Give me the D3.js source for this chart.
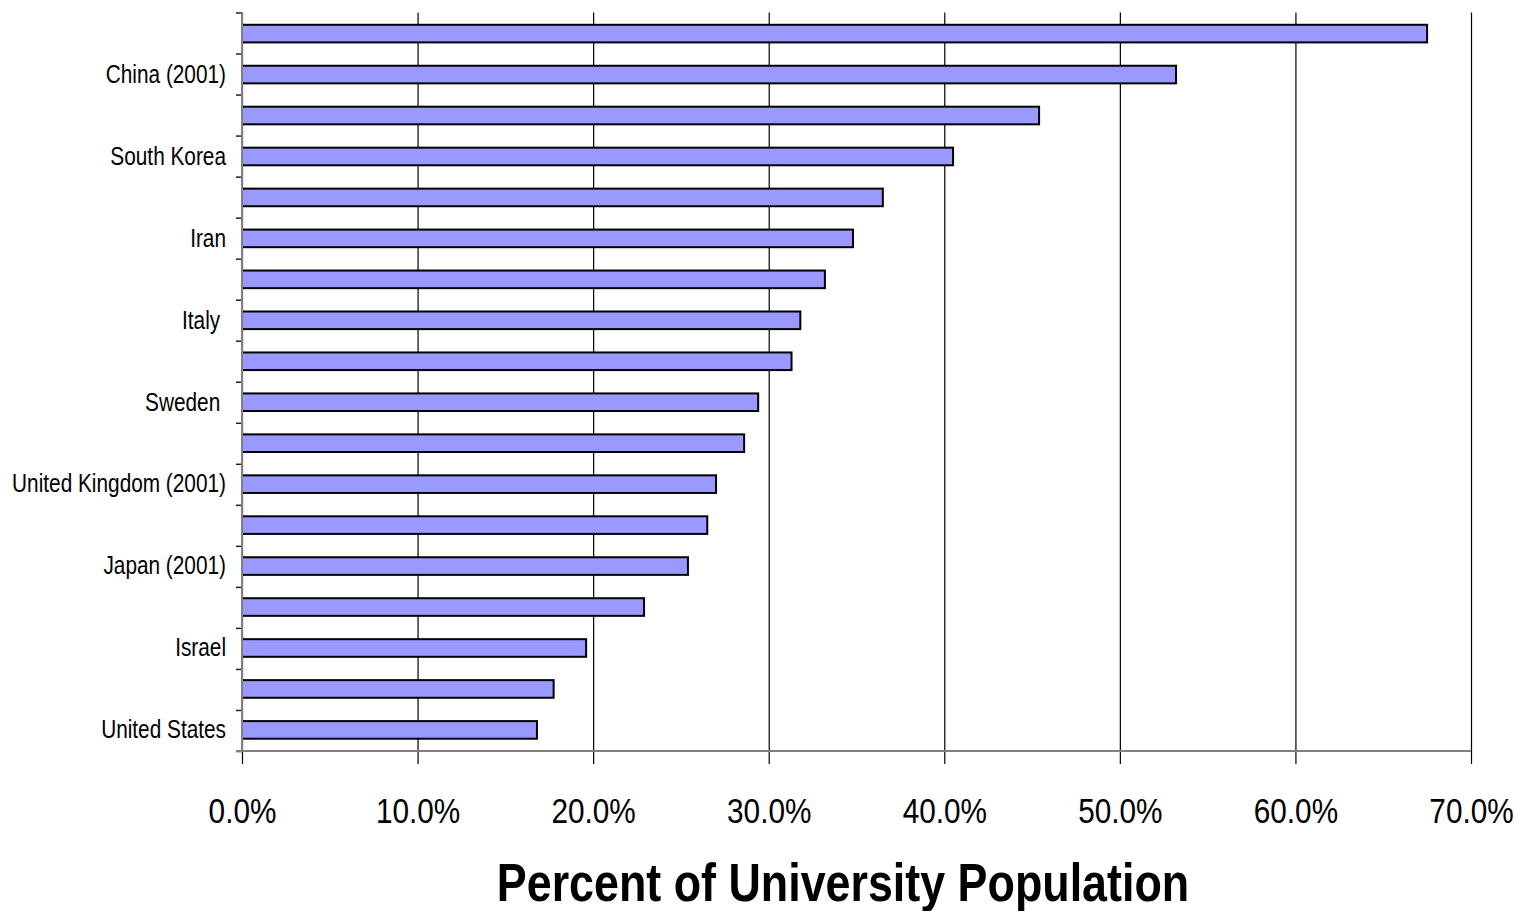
<!DOCTYPE html>
<html>
<head>
<meta charset="utf-8">
<script src="https://cdn.jsdelivr.net/npm/d3@7"></script>
<style>
  html, body { margin: 0; padding: 0; background: #fff; }
  svg { display: block; }
  text { font-family: "Liberation Sans", Arial, sans-serif; }
</style>
</head>
<body>
<svg id="chart" width="1517" height="911"></svg>
<script>
// Category labels, top to bottom (only every other row carries a label)
const categories = [
  "", "China (2001)", "", "South Korea", "", "Iran", "", "Italy ", "",
  "Sweden ", "", "United Kingdom (2001)", "", "Japan (2001)", "", "Israel", "", "United States"
];
// Share of university population, in percent
const values = [
  67.5, 53.2, 45.4, 40.5, 36.5, 34.8, 33.2, 31.8, 31.3,
  29.4, 28.6, 27.0, 26.5, 25.4, 22.9, 19.6, 17.75, 16.8
];
const xTicks = [0, 10, 20, 30, 40, 50, 60, 70];
const axisTitle = "Percent of University Population";

// Narrow-face look: squeeze glyphs horizontally by a fixed ratio
function condense(sel, ratio) {
  sel.each(function () {
    const len = this.getComputedTextLength();
    if (len > 0) {
      d3.select(this).attr("textLength", len * ratio).attr("lengthAdjust", "spacingAndGlyphs");
    }
  });
}

const svg = d3.select("#chart");
const margin = { left: 242, right: 46, top: 12.5, bottom: 160 };
const W = 1517, H = 911;
const plotW = W - margin.left - margin.right;
const plotH = H - margin.top - margin.bottom;

const x = d3.scaleLinear().domain([0, 70]).range([0, plotW]);
const rows = d3.range(categories.length);
const y = d3.scaleBand().domain(rows).range([0, plotH]).paddingInner(0.57).paddingOuter(0.3);
const yEdge = d3.scaleLinear().domain([0, categories.length]).range([0, plotH]);

const g = svg.append("g").attr("transform", `translate(${margin.left},${margin.top})`);

// Vertical gridlines, running past the axis as tick marks
g.append("g")
  .attr("transform", `translate(0,${plotH})`)
  .call(d3.axisBottom(x).tickValues(xTicks).tickSize(-plotH).tickFormat(""))
  .call(a => a.select(".domain").remove())
  .call(a => a.selectAll("line").attr("stroke", "#000").attr("stroke-width", 1.2));
g.append("g")
  .attr("transform", `translate(0,${plotH})`)
  .call(d3.axisBottom(x).tickValues(xTicks).tickSize(13).tickPadding(34).tickFormat(d => d.toFixed(1) + "%"))
  .call(a => a.select(".domain").remove())
  .call(a => a.selectAll("line").attr("stroke", "#000").attr("stroke-width", 1.2))
  .call(a => a.selectAll("text").attr("font-size", 35).attr("fill", "#000")
    .attr("transform", "scale(0.85,1)"));

// Bars
g.selectAll("rect.bar")
  .data(values)
  .join("rect")
  .attr("class", "bar")
  .attr("x", 0)
  .attr("y", (d, i) => y(i))
  .attr("width", d => x(d))
  .attr("height", y.bandwidth())
  .attr("fill", "#9999ff")
  .attr("stroke", "#000")
  .attr("stroke-width", 2);

// Category axis: labels at row centres, ticks at row boundaries
g.append("g")
  .call(d3.axisLeft(yEdge).tickValues(d3.range(categories.length + 1)).tickSize(6).tickFormat(""))
  .call(a => a.select(".domain").remove())
  .call(a => a.selectAll("line").attr("stroke", "#222").attr("stroke-width", 1.5));
g.append("g")
  .call(d3.axisLeft(y).tickSize(0).tickPadding(16).tickFormat(i => categories[i]))
  .call(a => a.select(".domain").remove())
  .call(a => a.selectAll("text").attr("font-size", 26).attr("fill", "#000")
    .style("white-space", "pre")
    .call(condense, 0.80));

// Axis lines
g.append("line").attr("x1", 0).attr("x2", 0).attr("y1", 0).attr("y2", plotH)
  .attr("stroke", "#808080").attr("stroke-width", 2);
g.append("line").attr("x1", -6).attr("x2", plotW).attr("y1", plotH).attr("y2", plotH)
  .attr("stroke", "#808080").attr("stroke-width", 2);

// Axis title
svg.append("text")
  .attr("x", 843).attr("y", 901)
  .attr("text-anchor", "middle")
  .attr("font-size", 54).attr("font-weight", "bold").attr("fill", "#000")
  .text(axisTitle)
  .call(condense, 0.83);
</script>
</body>
</html>
